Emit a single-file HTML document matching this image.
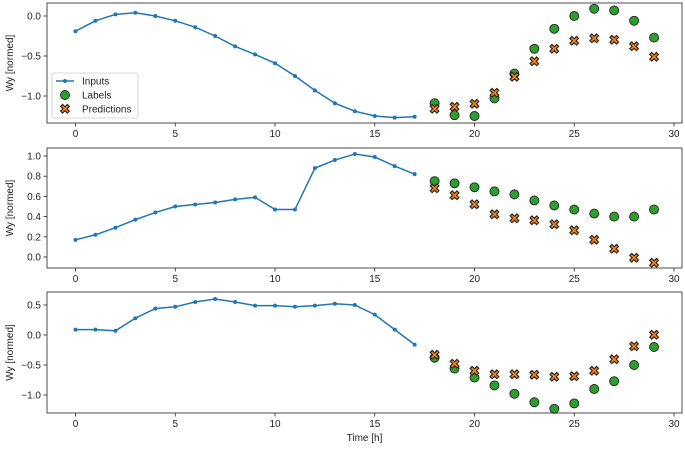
<!DOCTYPE html>
<html><head><meta charset="utf-8"><style>
body{margin:0;background:#fff;}
svg text{font-family:"Liberation Sans",sans-serif;font-size:10px;fill:#222;}
</style></head><body>
<svg id="chart" width="685" height="447" xmlns="http://www.w3.org/2000/svg"></svg>
<script>
const inputTimes=[0,1,2,3,4,5,6,7,8,9,10,11,12,13,14,15,16,17];
const labelTimes=[18,19,20,21,22,23,24,25,26,27,28,29];
const inputs1=[-0.19,-0.06,0.02,0.04,0.0,-0.06,-0.14,-0.25,-0.38,-0.48,-0.59,-0.75,-0.93,-1.09,-1.19,-1.25,-1.27,-1.26];
const labels1=[-1.09,-1.24,-1.25,-1.03,-0.72,-0.41,-0.16,0.0,0.09,0.07,-0.06,-0.27];
const preds1=[-1.16,-1.14,-1.10,-0.96,-0.76,-0.57,-0.41,-0.31,-0.28,-0.30,-0.38,-0.51];
const inputs2=[0.17,0.22,0.29,0.37,0.44,0.50,0.52,0.54,0.57,0.59,0.47,0.47,0.88,0.96,1.02,0.99,0.90,0.82];
const labels2=[0.75,0.73,0.69,0.65,0.62,0.56,0.51,0.47,0.43,0.40,0.40,0.47];
const preds2=[0.68,0.61,0.52,0.42,0.38,0.36,0.32,0.26,0.17,0.08,-0.01,-0.06];
const inputs3=[0.09,0.09,0.07,0.28,0.44,0.47,0.55,0.60,0.55,0.49,0.49,0.47,0.49,0.52,0.50,0.34,0.09,-0.16];
const labels3=[-0.38,-0.56,-0.71,-0.84,-0.98,-1.12,-1.23,-1.14,-0.90,-0.77,-0.50,-0.20];
const preds3=[-0.33,-0.48,-0.60,-0.66,-0.66,-0.67,-0.70,-0.69,-0.60,-0.41,-0.19,0.0];
const xTicks=[0,5,10,15,20,25,30];
const yTicks1=[0.0,-0.5,-1.0];
const yTicks2=[1.0,0.8,0.6,0.4,0.2,0.0];
const yTicks3=[0.5,0.0,-0.5,-1.0];

const svg=document.getElementById('chart');
const NS='http://www.w3.org/2000/svg';
function mk(tag,attrs,parent){const e=document.createElementNS(NS,tag);for(const k in attrs)e.setAttribute(k,attrs[k]);(parent||svg).appendChild(e);return e;}
const L=47,R=682;
const x=v=>75.5+v*19.95;
const panels=[
 {top:3,bot:123,y0:16,k:80,inp:inputs1,lab:labels1,pre:preds1,ticks:yTicks1,fmt:1,name:'panel-1'},
 {top:148,bot:268,y0:257,k:101,inp:inputs2,lab:labels2,pre:preds2,ticks:yTicks2,fmt:1,name:'panel-2'},
 {top:292,bot:413,y0:335,k:60,inp:inputs3,lab:labels3,pre:preds3,ticks:yTicks3,fmt:1,name:'panel-3'}
];
panels.forEach((p,pi)=>{
 const g=mk('g',{});
 
 
 const y=v=>p.y0-v*p.k;
 // ticks
 xTicks.forEach(t=>{
  const tl=mk('line',{x1:x(t),x2:x(t),y1:p.bot,y2:p.bot+3.5,stroke:'#222','stroke-width':0.8},g);
  
  
  const tx=mk('text',{x:x(t),y:p.bot+14,'text-anchor':'middle'},g);
  tx.textContent=t;
  
  
 });
 p.ticks.forEach(t=>{
  const tl=mk('line',{x1:L-3.5,x2:L,y1:y(t),y2:y(t),stroke:'#222','stroke-width':0.8},g);
  
  
  const tx=mk('text',{x:L-6,y:y(t)+3.5,'text-anchor':'end'},g);
  tx.textContent=(t<0?'\u2212':'')+Math.abs(t).toFixed(1);
  
  
 });
 const yl=mk('text',{x:0,y:0,transform:`translate(13,${(p.top+p.bot)/2}) rotate(-90)`,'text-anchor':'middle'},g);
 yl.textContent='Wy [normed]';
 
 
 // line
 const pts=p.inp.map((v,i)=>x(inputTimes[i])+','+y(v)).join(' ');
 const pl=mk('polyline',{points:pts,fill:'none',stroke:'#1f77b4','stroke-width':1.5},g);
 
 
 p.inp.forEach((v,i)=>{
  const c=mk('circle',{cx:x(inputTimes[i]),cy:y(v),r:2,fill:'#1f77b4'},g);
  
  
 });
 p.lab.forEach((v,i)=>{
  const c=mk('circle',{cx:x(labelTimes[i]),cy:y(v),r:4.5,fill:'#2ca02c',stroke:'#222','stroke-width':0.9},g);
  
  
 });
 p.pre.forEach((v,i)=>{
  const cx=x(labelTimes[i]),cy=y(v);
  const t=mk('text',{x:cx,y:cy+4.5,'text-anchor':'middle',style:'font-size:13px;font-weight:bold;fill:#ff7f0e;stroke:#222;stroke-width:0.6'},g);
  t.textContent='\u2716';
  
  
 });
 const box=mk('rect',{x:L,y:p.top,width:R-L,height:p.bot-p.top,fill:'none',stroke:'#222','stroke-width':0.8},g);
 
 
});
const xt=mk('text',{x:(L+R)/2,y:441,'text-anchor':'middle'});
xt.textContent='Time [h]';


// legend
const lg=mk('g',{});


mk('rect',{x:52,y:73,width:86,height:45,rx:2,fill:'#fff','fill-opacity':0.85,stroke:'#ccc','stroke-width':0.8},lg);
mk('line',{x1:56,x2:74,y1:81,y2:81,stroke:'#1f77b4','stroke-width':1.5},lg);
mk('circle',{cx:65,cy:81,r:2,fill:'#1f77b4'},lg);
mk('circle',{cx:65,cy:95,r:4.5,fill:'#2ca02c',stroke:'#222','stroke-width':0.9},lg);
const lx=mk('text',{x:65,y:113.5,'text-anchor':'middle',style:'font-size:13px;font-weight:bold;fill:#ff7f0e;stroke:#222;stroke-width:0.6'},lg);
lx.textContent='\u2716';
[['Inputs',84.5,'legend-entry-inputs'],['Labels',98.5,'legend-entry-labels'],['Predictions',112.5,'legend-entry-predictions']].forEach(a=>{
 const t=mk('text',{x:82,y:a[1]},lg);t.textContent=a[0];
 
 
});
</script>
</body></html>
